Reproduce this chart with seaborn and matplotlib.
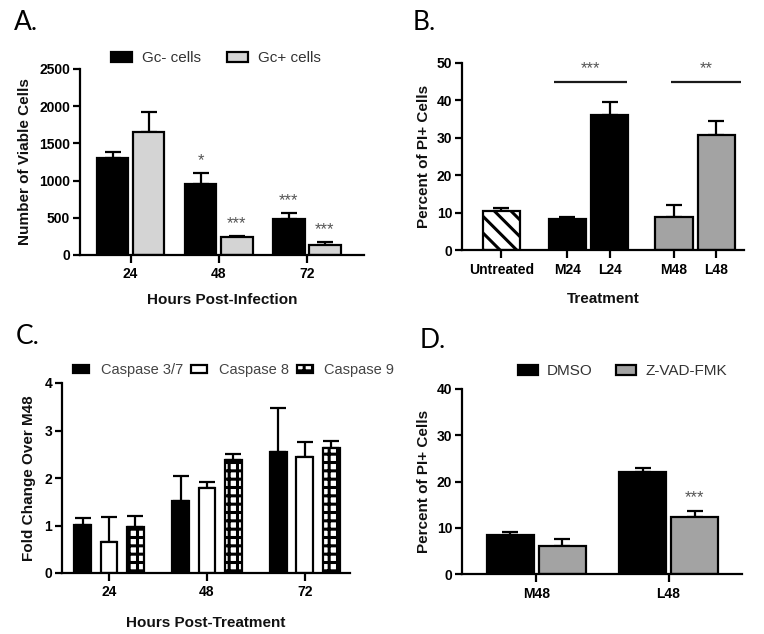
import numpy as np
import pandas as pd
import matplotlib
matplotlib.use("Agg")
import matplotlib.pyplot as plt
import seaborn as sns
from matplotlib.patches import Patch

# ---------------- data ----------------
# Panel A
a_hours = ["24", "48", "72"]
a_groups = ["Gc- cells", "Gc+ cells"]
a_gcneg = [1300, 950, 490]
a_gcneg_err = [90, 150, 70]
a_gcpos = [1650, 240, 130]
a_gcpos_err = [270, 20, 40]
a_stars_neg = ["", "*", "***"]
a_stars_pos = ["", "***", "***"]

# Panel B
b_treat = ["Untreated", "M24", "L24", "M48", "L48"]
b_pct = [10.5, 8.2, 36.2, 8.9, 30.7]
b_err = [0.75, 0.7, 3.4, 3.1, 3.7]
b_sig_labels = ["***", "**"]

# Panel C
c_hours = ["24", "48", "72"]
c_groups = ["Caspase 3/7", "Caspase 8", "Caspase 9"]
c_casp37 = [1.01, 1.51, 2.54]
c_casp37_err = [0.14, 0.54, 0.94]
c_casp8 = [0.65, 1.78, 2.45]
c_casp8_err = [0.53, 0.13, 0.31]
c_casp9 = [0.97, 2.37, 2.63]
c_casp9_err = [0.24, 0.14, 0.14]

# Panel D
d_treat = ["M48", "L48"]
d_groups = ["DMSO", "Z-VAD-FMK"]
d_dmso = [8.5, 22.0]
d_dmso_err = [0.6, 1.0]
d_zvad = [6.1, 12.3]
d_zvad_err = [1.5, 1.3]
d_stars_zvad = ["", "***"]

# ---------------- style ----------------
sns.set_style("ticks")
plt.rcParams['font.family'] = ['Liberation Sans', 'DejaVu Sans']
plt.rcParams['font.weight'] = 'bold'
plt.rcParams['axes.labelweight'] = 'bold'
plt.rcParams['hatch.linewidth'] = 2.2
plt.rcParams['axes.edgecolor'] = 'black'
plt.rcParams['xtick.color'] = 'black'
plt.rcParams['ytick.color'] = 'black'
plt.rcParams['text.color'] = '#111111'
plt.rcParams['axes.labelcolor'] = '#111111'

BLACK = "#000000"
LGRAY = "#d4d4d4"
MGRAY = "#a3a3a3"
LW = 1.6
STAR_C = "#555555"
STAR_FS = 12

W, H = 764, 634
fig = plt.figure(figsize=(W / 100, H / 100), dpi=100)


def add_ax(l, t, r, b):
    return fig.add_axes([l / W, 1 - b / H, (r - l) / W, (b - t) / H])


axA = add_ax(80, 69, 364, 255)
axB = add_ax(462, 63, 744, 250)
axC = add_ax(62, 383, 350, 573)
axD = add_ax(462, 389, 742, 574)


def style(ax):
    sns.despine(ax=ax)
    for s in ['left', 'bottom']:
        ax.spines[s].set_linewidth(LW)
    ax.tick_params(axis='y', width=LW, length=5, labelsize=10, pad=2)
    ax.tick_params(axis='x', width=LW, length=6, labelsize=10, pad=3)


def add_err(ax, containers, errs_list):
    tops = []
    for cont, errs in zip(containers, errs_list):
        t = []
        for bar, e in zip(cont, errs):
            x = bar.get_x() + bar.get_width() / 2
            y = bar.get_height()
            ax.errorbar(x, y, yerr=[[0], [e]], fmt='none', ecolor='black',
                        elinewidth=LW, capsize=6, capthick=LW, zorder=1)
            t.append((x, y + e))
        tops.append(t)
    return tops


def star(ax, x, y, s, dy=10):
    if s:
        ax.annotate(s, (x, y), xytext=(0, dy), textcoords='offset points',
                    ha='center', va='center', fontsize=STAR_FS, color=STAR_C,
                    fontweight='normal')


# ---------------- Panel A ----------------
dfA = pd.DataFrame({
    "hours": a_hours * 2,
    "group": [a_groups[0]] * 3 + [a_groups[1]] * 3,
    "value": a_gcneg + a_gcpos,
})
sns.barplot(data=dfA, x="hours", y="value", hue="group", order=a_hours,
            hue_order=a_groups, palette=[BLACK, LGRAY], saturation=1,
            width=0.82, gap=0.125, edgecolor='black', linewidth=LW,
            errorbar=None, legend=False, ax=axA, zorder=2)
topsA = add_err(axA, axA.containers, [a_gcneg_err, a_gcpos_err])
for (x, y), s in zip(topsA[0], a_stars_neg):
    star(axA, x, y, s, dy=9)
for (x, y), s in zip(topsA[1], a_stars_pos):
    star(axA, x, y, s, dy=9)
axA.set_ylim(0, 2500)
axA.set_yticks(np.arange(0, 2501, 500))
axA.set_xlim(-0.574, 2.648)
axA.set_xlabel("Hours Post-Infection", fontsize=11, labelpad=8)
axA.set_ylabel("Number of Viable Cells", fontsize=11, labelpad=5)
style(axA)
fig.legend([Patch(facecolor=BLACK, edgecolor='black', linewidth=LW),
            Patch(facecolor=LGRAY, edgecolor='black', linewidth=LW)],
           a_groups, loc='center left', bbox_to_anchor=(111 / W, 1 - 58 / H),
           ncol=2, frameon=False, handlelength=1.35,
           handleheight=0.65, handletextpad=0.65, columnspacing=1.75,
           borderpad=0, borderaxespad=0,
           prop={'weight': 'normal', 'size': 11}, labelcolor='#333333')

# ---------------- Panel B ----------------
b_pos = [0, 1.57, 2.57, 4.1, 5.1]
dfB = pd.DataFrame({"pos": b_pos, "treatment": b_treat, "pct": b_pct})
sns.barplot(data=dfB, x="pos", y="pct", hue="treatment", hue_order=b_treat,
            palette=["white", BLACK, BLACK, MGRAY, MGRAY], saturation=1,
            native_scale=True, dodge=False, width=0.88, edgecolor='black',
            linewidth=LW, errorbar=None, legend=False, ax=axB, zorder=2)
bars_B = [c[0] for c in axB.containers]
bars_B[0].set_hatch('\\\\')
for bar, e in zip(bars_B, b_err):
    x = bar.get_x() + bar.get_width() / 2
    axB.errorbar(x, bar.get_height(), yerr=[[0], [e]], fmt='none', ecolor='black',
                 elinewidth=LW, capsize=6, capthick=LW, zorder=1)
# significance brackets
sig_spans = [(bars_B[1].get_x() + 0.12, bars_B[2].get_x() + bars_B[2].get_width() - 0.02),
             (bars_B[3].get_x() + 0.38, bars_B[4].get_x() + bars_B[4].get_width() + 0.14)]
for (x0, x1), s in zip(sig_spans, b_sig_labels):
    axB.plot([x0, x1], [44.8, 44.8], color='#1a1a1a', lw=LW, solid_capstyle='butt')
    axB.text((x0 + x1) / 2, 48.6, s, ha='center', va='center', fontsize=STAR_FS,
             color=STAR_C, fontweight='normal')
axB.set_ylim(0, 50)
axB.set_yticks(np.arange(0, 51, 10))
axB.set_xlim(-0.93, 5.76)
axB.set_xticks(b_pos)
axB.set_xticklabels(b_treat)
axB.set_xlabel("Treatment", fontsize=11, labelpad=11)
axB.set_ylabel("Percent of PI+ Cells", fontsize=11, labelpad=4)
style(axB)

# ---------------- Panel C ----------------
dfC = pd.DataFrame({
    "hours": c_hours * 3,
    "group": [g for g in c_groups for _ in c_hours],
    "value": c_casp37 + c_casp8 + c_casp9,
})
sns.barplot(data=dfC, x="hours", y="value", hue="group", order=c_hours,
            hue_order=c_groups, palette=[BLACK, "white", "white"], saturation=1,
            width=0.81, gap=0.36, edgecolor='black', linewidth=LW,
            errorbar=None, legend=False, ax=axC, zorder=2)
for bar in axC.containers[2]:
    bar.set_hatch('++')
add_err(axC, axC.containers, [c_casp37_err, c_casp8_err, c_casp9_err])
axC.set_ylim(0, 4)
axC.set_yticks(np.arange(0, 5, 1))
axC.set_xlim(-0.48, 2.46)
axC.set_xlabel("Hours Post-Treatment", fontsize=11, labelpad=12)
axC.set_ylabel("Fold Change Over M48", fontsize=11, labelpad=6)
style(axC)
fig.legend([Patch(facecolor=BLACK, edgecolor='black', linewidth=LW),
            Patch(facecolor='white', edgecolor='black', linewidth=LW),
            Patch(facecolor='white', edgecolor='black', linewidth=LW, hatch='++')],
           c_groups, loc='center left', bbox_to_anchor=(73 / W, 1 - 370 / H),
           ncol=3, frameon=False, handlelength=1.1, handleheight=0.5,
           handletextpad=0.8, columnspacing=0.55, borderpad=0, borderaxespad=0,
           prop={'weight': 'normal', 'size': 10.5}, labelcolor='#444444')

# ---------------- Panel D ----------------
dfD = pd.DataFrame({
    "treat": d_treat * 2,
    "group": [d_groups[0]] * 2 + [d_groups[1]] * 2,
    "value": d_dmso + d_zvad,
})
sns.barplot(data=dfD, x="treat", y="value", hue="group", order=d_treat,
            hue_order=d_groups, palette=[BLACK, MGRAY], saturation=1,
            width=0.785, gap=0.095, edgecolor='black', linewidth=LW,
            errorbar=None, legend=False, ax=axD, zorder=2)
topsD = add_err(axD, axD.containers, [d_dmso_err, d_zvad_err])
for (x, y), s in zip(topsD[1], d_stars_zvad):
    star(axD, x, y, s, dy=10)
axD.set_ylim(0, 40)
axD.set_yticks(np.arange(0, 41, 10))
axD.set_xlim(-0.56, 1.555)
axD.set_xlabel("")
axD.set_ylabel("Percent of PI+ Cells", fontsize=11, labelpad=4)
style(axD)
fig.legend([Patch(facecolor=BLACK, edgecolor='black', linewidth=LW),
            Patch(facecolor=MGRAY, edgecolor='black', linewidth=LW)],
           d_groups, loc='center left', bbox_to_anchor=(518 / W, 1 - 371 / H),
           ncol=2, frameon=False, handlelength=1.3, handleheight=0.65,
           handletextpad=0.6, columnspacing=1.55, borderpad=0, borderaxespad=0,
           prop={'weight': 'normal', 'size': 11}, labelcolor='#333333')

# ---------------- panel letters ----------------
for x, y, s in [(14, 22, "A."), (413, 22, "B."), (16, 336, "C."), (420, 340, "D.")]:
    fig.text(x / W, 1 - y / H, s, fontsize=19, fontweight='normal',
             family=['Lato', 'DejaVu Sans'], va='center', ha='left', color='black')

fig.savefig("out.png", dpi=100)
